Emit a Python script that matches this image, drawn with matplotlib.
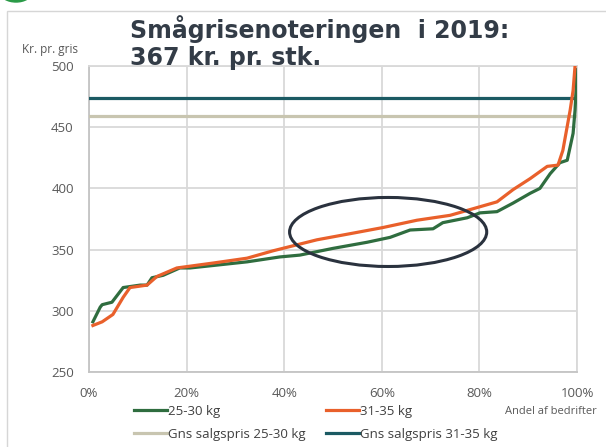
import numpy as np
import matplotlib
matplotlib.use("Agg")
import matplotlib.pyplot as plt
from matplotlib.patches import Ellipse, Rectangle

# ---------------------------------------------------------------------------
# Data
# ---------------------------------------------------------------------------
GREEN_X = [0.8, 2.3, 2.7, 4.7, 7.0, 10.5, 11.9, 12.9, 15.2, 18.6, 20.7, 25.4,
           32.4, 39.1, 43.2, 50.0, 57.0, 61.7, 65.8, 70.5, 72.5, 77.5, 80.1,
           83.6, 86.9, 90.4, 92.4, 94.5, 96.5, 98.0, 99.2, 99.6, 100.0]
GREEN_Y = [291, 303, 305, 307, 319, 321, 321, 327, 329, 335, 335, 337,
           340, 344, 345.5, 351, 356, 360, 366, 367, 372, 376, 380,
           381, 388, 396, 400, 412, 421, 423, 445, 464, 497]

ORANGE_X = [0.8, 2.7, 4.9, 7.0, 8.4, 11.9, 13.9, 18.0, 25.4, 32.4, 37.7,
            46.7, 53.5, 60.2, 67.2, 74.0, 80.1, 83.6, 86.9, 90.4, 93.9,
            96.1, 97.1, 98.6, 99.2, 99.6, 100.0]
ORANGE_Y = [288, 291, 297, 311, 319, 321, 328, 335, 339, 343, 349,
            358, 363, 368, 374, 378, 385, 389, 399, 408, 418,
            419, 431, 464, 480, 500, 515]

AVG_25_30 = 459
AVG_31_35 = 474

X_TICKS = [0, 20, 40, 60, 80, 100]
Y_TICKS = [250, 300, 350, 400, 450, 500]

C_GREEN = "#2f6d3f"
C_ORANGE = "#e9602b"
C_BEIGE = "#c8c5b0"
C_TEAL = "#1b5a63"
C_GRID = "#d9d9d9"
C_TXT = "#595959"

plt.rcParams["font.family"] = ["Open Sans", "DejaVu Sans"]

fig = plt.figure(figsize=(6.06, 4.47), dpi=100)
ax = fig.add_axes([89/606, 1-372/447, (577-89)/606, (372-66)/447])

ax.plot(GREEN_X, GREEN_Y, color=C_GREEN, lw=2.3, label="25-30 kg",
        solid_joinstyle="round", zorder=4)
ax.plot(ORANGE_X, ORANGE_Y, color=C_ORANGE, lw=2.3, label="31-35 kg",
        solid_joinstyle="round", zorder=4)
ax.axhline(AVG_25_30, color=C_BEIGE, lw=2.3,
           label="Gns salgspris 25-30 kg", zorder=3)
ax.axhline(AVG_31_35, color=C_TEAL, lw=2.3,
           label="Gns salgspris 31-35 kg", zorder=3)

ax.add_patch(Ellipse((61.3, 364.4), 40.4, 56.4, fill=False,
                     edgecolor="#2a323e", lw=2.2, zorder=5))

ax.set_xlim(0, 100)
ax.set_ylim(250, 500)
ax.set_xticks(X_TICKS)
ax.set_xticklabels([f"{v}%" for v in X_TICKS])
ax.set_yticks(Y_TICKS)
ax.tick_params(length=0, labelsize=9.5, labelcolor=C_TXT)
ax.tick_params(axis="x", pad=11)
ax.tick_params(axis="y", pad=11)
ax.grid(True, color=C_GRID, lw=1.3)
ax.set_axisbelow(True)
for s in ax.spines.values():
    s.set_color(C_GRID)
    s.set_linewidth(1.3)
ax.spines["left"].set_color("#c4c4c4")
ax.spines["bottom"].set_color("#c4c4c4")

fig.text(50/606, 1-50/447, "Kr. pr. gris", ha="center", va="center",
         fontsize=8.5, color=C_TXT)
fig.text(551/606, 1-411/447, "Andel af bedrifter", ha="center",
         va="center", fontsize=8, color=C_TXT)

fig.text(130/606, 1-38/447, "Smågrisenoteringen  i 2019:",
         ha="left", va="baseline", fontsize=17, fontweight="bold",
         color="#333c47", family="DejaVu Sans", zorder=10)
fig.text(130/606, 1-65/447, "367 kr. pr. stk.",
         ha="left", va="baseline", fontsize=17, fontweight="bold",
         color="#333c47", family="DejaVu Sans", zorder=10)

handles, labels = ax.get_legend_handles_labels()
order = [0, 2, 1, 3]
fig.legend([handles[i] for i in order], [labels[i] for i in order],
           loc="center left", bbox_to_anchor=(122/606, 1-423/447), ncol=2,
           frameon=False, fontsize=9.5, labelcolor="#404040",
           handlelength=2.5, handletextpad=0.05, columnspacing=1.6,
           labelspacing=0.75)

# decorative frame and green corner badge
fig.add_artist(Rectangle((7/606, -0.1), 1.2, 1-11/447 + 0.1,
                         transform=fig.transFigure, fill=False,
                         edgecolor="#d6d6d6", lw=1.0))
fig.add_artist(Ellipse((16/606, 1+8/447), 32/606, 20/447,
                       transform=fig.transFigure, color="#2a9a47"))

fig.savefig("out.png", dpi=100)
